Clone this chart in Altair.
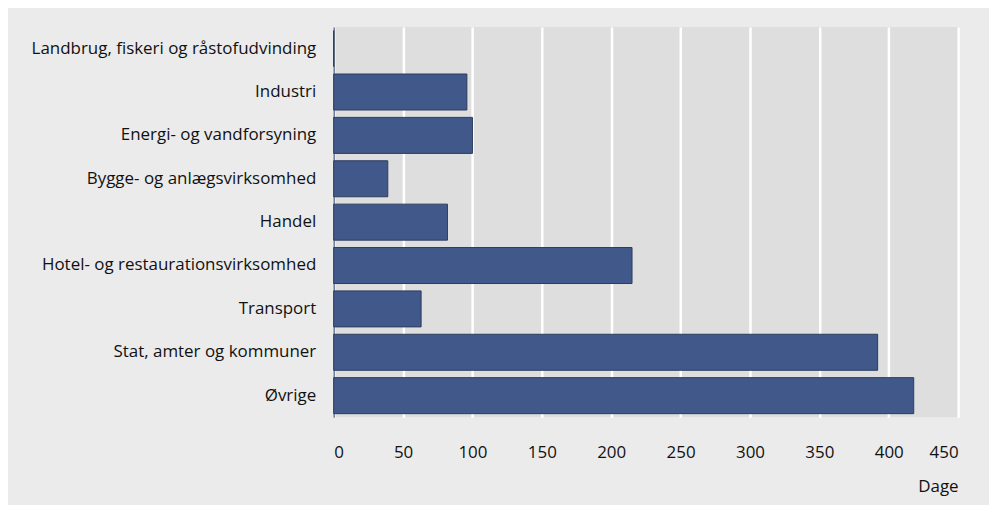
import altair as alt
import pandas as pd

categories = [
    "Landbrug, fiskeri og råstofudvinding",
    "Industri",
    "Energi- og vandforsyning",
    "Bygge- og anlægsvirksomhed",
    "Handel",
    "Hotel- og restaurationsvirksomhed",
    "Transport",
    "Stat, amter og kommuner",
    "Øvrige",
]
values = [0, 96, 100, 39, 82, 215, 63, 392, 418]
x_ticks = [0, 50, 100, 150, 200, 250, 300, 350, 400, 450]

df = pd.DataFrame({"kategori": categories, "dage": values})

FONT = "Open Sans"
FS = 17

chart = (
    alt.Chart(df)
    .mark_bar(color="#41598a", stroke="#2c3b5c", strokeWidth=1)
    .encode(
        x=alt.X(
            "dage:Q",
            scale=alt.Scale(domain=[0, 450], nice=False),
            axis=alt.Axis(
                values=x_ticks,
                title="Dage",
                titleAnchor="end",
                titleFont=FONT,
                titleFontSize=FS,
                titleFontWeight="normal",
                titleColor="#111111",
                titlePadding=18,
                labelFont=FONT,
                labelFontSize=FS,
                labelColor="#111111",
                labelPadding=27,
                domain=False,
                ticks=False,
                grid=True,
                gridColor="#ffffff",
                gridWidth=2.5,
            ),
        ),
        y=alt.Y(
            "kategori:N",
            sort=categories,
            scale=alt.Scale(paddingInner=0.17, paddingOuter=0.085),
            axis=alt.Axis(
                title=None,
                labelFont=FONT,
                labelFontSize=FS,
                labelColor="#111111",
                labelPadding=18,
                labelLimit=400,
                ticks=False,
                domain=True,
                domainColor="#6b7590",
                domainWidth=1.5,
                grid=False,
            ),
        ),
    )
    .properties(
        width=627,
        height=392,
        background="#ebebeb",
        padding={"left": 327, "top": 18, "right": 31, "bottom": 87},
        autosize=alt.AutoSizeParams(type="none"),
    )
    .configure_view(fill="#dedede", stroke=None)
)

chart.save("out.html", embed_options={"renderer": "svg", "actions": False})
